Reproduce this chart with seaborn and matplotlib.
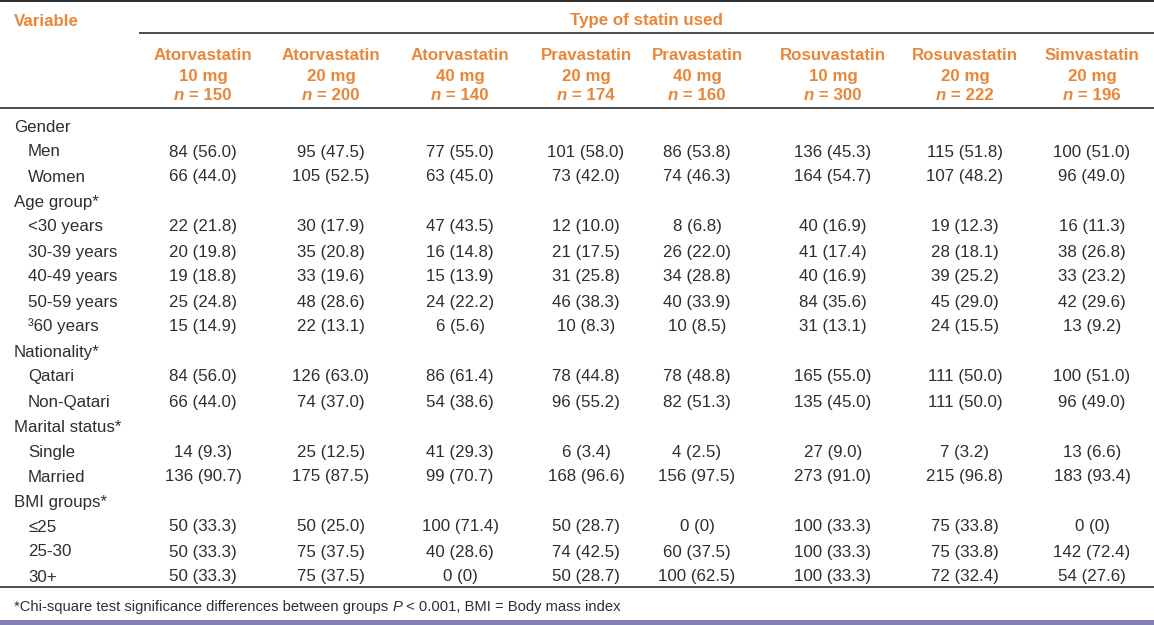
import matplotlib
matplotlib.use("Agg")
import matplotlib.pyplot as plt
import seaborn as sns

sns.set_theme(style="white")
plt.rcParams['font.family'] = ['Liberation Sans', 'DejaVu Sans']

# ---------------- data ----------------
drugs = ["Atorvastatin", "Atorvastatin", "Atorvastatin", "Pravastatin",
         "Pravastatin", "Rosuvastatin", "Rosuvastatin", "Simvastatin"]
doses = ["10 mg", "20 mg", "40 mg", "20 mg", "40 mg", "10 mg", "20 mg", "20 mg"]
n_sizes = [150, 200, 140, 174, 160, 300, 222, 196]

row_labels = ["Gender", "Men", "Women", "Age group*", "<30 years", "30-39 years",
              "40-49 years", "50-59 years", "\u00b360 years", "Nationality*", "Qatari",
              "Non-Qatari", "Marital status*", "Single", "Married", "BMI groups*",
              "\u226425", "25-30", "30+"]
is_group = [True, False, False, True, False, False, False, False, False, True,
            False, False, True, False, False, True, False, False, False]

men =        ["84 (56.0)", "95 (47.5)", "77 (55.0)", "101 (58.0)", "86 (53.8)", "136 (45.3)", "115 (51.8)", "100 (51.0)"]
women =      ["66 (44.0)", "105 (52.5)", "63 (45.0)", "73 (42.0)", "74 (46.3)", "164 (54.7)", "107 (48.2)", "96 (49.0)"]
age_lt30 =   ["22 (21.8)", "30 (17.9)", "47 (43.5)", "12 (10.0)", "8 (6.8)", "40 (16.9)", "19 (12.3)", "16 (11.3)"]
age_30_39 =  ["20 (19.8)", "35 (20.8)", "16 (14.8)", "21 (17.5)", "26 (22.0)", "41 (17.4)", "28 (18.1)", "38 (26.8)"]
age_40_49 =  ["19 (18.8)", "33 (19.6)", "15 (13.9)", "31 (25.8)", "34 (28.8)", "40 (16.9)", "39 (25.2)", "33 (23.2)"]
age_50_59 =  ["25 (24.8)", "48 (28.6)", "24 (22.2)", "46 (38.3)", "40 (33.9)", "84 (35.6)", "45 (29.0)", "42 (29.6)"]
age_ge60 =   ["15 (14.9)", "22 (13.1)", "6 (5.6)", "10 (8.3)", "10 (8.5)", "31 (13.1)", "24 (15.5)", "13 (9.2)"]
qatari =     ["84 (56.0)", "126 (63.0)", "86 (61.4)", "78 (44.8)", "78 (48.8)", "165 (55.0)", "111 (50.0)", "100 (51.0)"]
non_qatari = ["66 (44.0)", "74 (37.0)", "54 (38.6)", "96 (55.2)", "82 (51.3)", "135 (45.0)", "111 (50.0)", "96 (49.0)"]
single =     ["14 (9.3)", "25 (12.5)", "41 (29.3)", "6 (3.4)", "4 (2.5)", "27 (9.0)", "7 (3.2)", "13 (6.6)"]
married =    ["136 (90.7)", "175 (87.5)", "99 (70.7)", "168 (96.6)", "156 (97.5)", "273 (91.0)", "215 (96.8)", "183 (93.4)"]
bmi_le25 =   ["50 (33.3)", "50 (25.0)", "100 (71.4)", "50 (28.7)", "0 (0)", "100 (33.3)", "75 (33.8)", "0 (0)"]
bmi_25_30 =  ["50 (33.3)", "75 (37.5)", "40 (28.6)", "74 (42.5)", "60 (37.5)", "100 (33.3)", "75 (33.8)", "142 (72.4)"]
bmi_30p =    ["50 (33.3)", "75 (37.5)", "0 (0)", "50 (28.7)", "100 (62.5)", "100 (33.3)", "72 (32.4)", "54 (27.6)"]

row_values = [None, men, women, None, age_lt30, age_30_39, age_40_49, age_50_59,
              age_ge60, None, qatari, non_qatari, None, single, married, None,
              bmi_le25, bmi_25_30, bmi_30p]

# ---------------- layout ----------------
W, H = 1154, 625
fig = plt.figure(figsize=(W / 100, H / 100), dpi=100)
ax = fig.add_axes([0, 0, 1, 1])
ax.set_xlim(0, W)
ax.set_ylim(H, 0)
ax.axis("off")

ORANGE = "#E8873A"
TXT = "#2e2e2e"
LINE = "#1a1a1a"
FS = 12.2

col_x = [203, 331, 460, 586, 697, 833, 965, 1092]

# rules
ax.plot([0, W], [1, 1], color=LINE, lw=1.3, solid_capstyle="butt")
ax.plot([139, W], [33, 33], color=LINE, lw=1.1, solid_capstyle="butt")
ax.plot([0, W], [108, 108], color=LINE, lw=1.1, solid_capstyle="butt")
ax.plot([0, W], [587, 587], color=LINE, lw=1.1, solid_capstyle="butt")
ax.axhspan(620, H, color="#8080B2", lw=0)

# header
ax.text(14, 26, "Variable", color=ORANGE, fontsize=FS, fontweight="bold",
        ha="left", va="baseline")
ax.text(646, 25, "Type of statin used", color=ORANGE, fontsize=FS,
        fontweight="bold", ha="center", va="baseline")

renderer = fig.canvas.get_renderer()


def width_px(t):
    return t.get_window_extent(renderer=renderer).width


for cx, d, dose, n in zip(col_x, drugs, doses, n_sizes):
    ax.text(cx, 60, d, color=ORANGE, fontsize=FS, fontweight="bold",
            ha="center", va="baseline")
    ax.text(cx, 81.5, dose, color=ORANGE, fontsize=FS, fontweight="bold",
            ha="center", va="baseline")
    t1 = ax.text(0, 100.5, "n", color=ORANGE, fontsize=FS, fontweight="bold",
                 fontstyle="italic", ha="left", va="baseline")
    t2 = ax.text(0, 100.5, f" = {n}", color=ORANGE, fontsize=FS,
                 fontweight="bold", ha="left", va="baseline")
    w1, w2 = width_px(t1), width_px(t2)
    x0 = cx - (w1 + w2) / 2
    t1.set_x(x0)
    t2.set_x(x0 + w1)

# body
for i, (lab, grp, vals) in enumerate(zip(row_labels, is_group, row_values)):
    yb = 131.5 + 25 * i
    ax.text(14 if grp else 28, yb, lab, color=TXT, fontsize=FS,
            ha="left", va="baseline")
    if vals is not None:
        for cx, v in zip(col_x, vals):
            ax.text(cx, yb, v, color=TXT, fontsize=FS, ha="center", va="baseline")

# footnote
FFS = 10.6
parts = [("*Chi-square test significance differences between groups ", "normal"),
         ("P", "italic"),
         (" < 0.001, BMI = Body mass index", "normal")]
x = 14
for s, st in parts:
    t = ax.text(x, 611, s, color=TXT, fontsize=FFS, fontstyle=st,
                ha="left", va="baseline")
    x += width_px(t)

fig.savefig("out.png", dpi=100)
